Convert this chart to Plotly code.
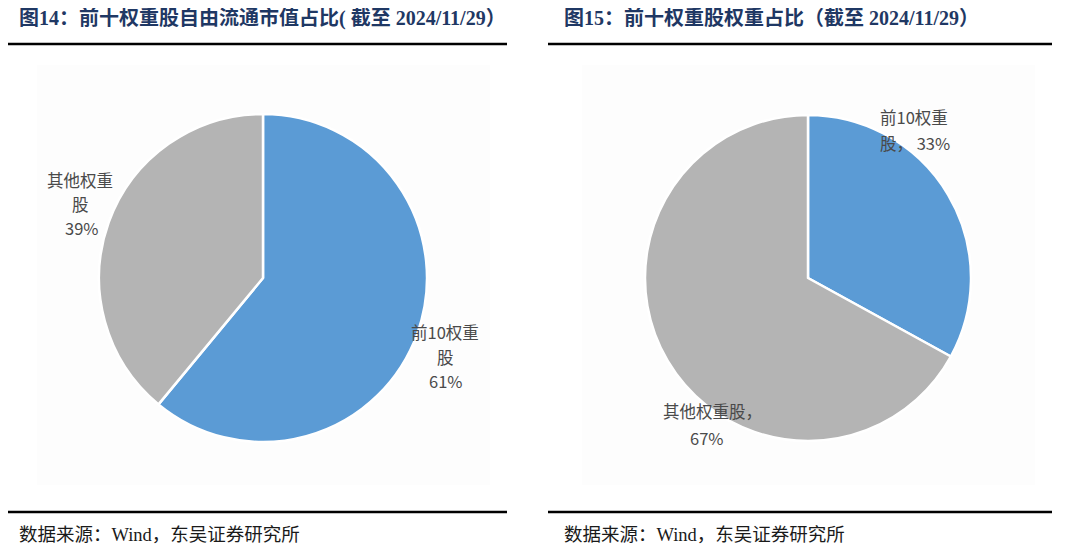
import plotly.graph_objects as go

OFF = 8  # default page body margin
W, H = 1080 - OFF, 556 - OFF

# data
categories_left = ["前10权重股", "其他权重股"]
values_left = [61, 39]
categories_right = ["前10权重股", "其他权重股"]
values_right = [33, 67]
colors = ["#5B9BD5", "#B4B4B4"]

title_left = "图14：前十权重股自由流通市值占比( 截至 2024/11/29）"
title_right = "图15：前十权重股权重占比（截至 2024/11/29）"
source_text = "数据来源：Wind，东吴证券研究所"


def px(x):
    return (x - OFF) / W


def py(y):
    return 1 - (y - OFF) / H


fig = go.Figure()

fig.add_trace(go.Pie(
    labels=categories_left, values=values_left, sort=False,
    direction="clockwise", rotation=0,
    marker=dict(colors=colors, line=dict(color="white", width=2.5)),
    textinfo="none", hoverinfo="label+percent",
    domain=dict(x=[px(99), px(427)], y=[py(442), py(114)]),
    showlegend=False,
))
fig.add_trace(go.Pie(
    labels=categories_right, values=values_right, sort=False,
    direction="clockwise", rotation=0,
    marker=dict(colors=colors, line=dict(color="white", width=2.5)),
    textinfo="none", hoverinfo="label+percent",
    domain=dict(x=[px(645), px(971)], y=[py(442), py(114)]),
    showlegend=False,
))

label_font = dict(family="Noto Sans CJK SC", size=16.5, color="#4A4A4A")
title_font = dict(family="Liberation Serif, Noto Sans CJK SC", size=20, color="#1F3864")
src_font = dict(family="Liberation Serif, Noto Sans CJK SC", size=18.5, color="#1A1A1A")

annotations = []


def lab(x, y, text, font=label_font, xanchor="center"):
    annotations.append(dict(x=px(x), y=py(y), text=text, font=font,
                            xanchor=xanchor, yanchor="middle",
                            xref="paper", yref="paper", showarrow=False))


# left pie labels
lab(80, 180, "其他权重")
lab(80, 204, "股")
lab(82, 228, "%d%%" % values_left[1])
lab(445, 332, "前10权重")
lab(445, 357, "股")
lab(446, 381, "%d%%" % values_left[0])
# right pie labels
lab(914, 117, "前10权重")
lab(915, 143, "股， %d%%" % values_right[0])
lab(712, 411, "其他权重股，")
lab(707, 438, "%d%%" % values_right[1])
# titles and sources
lab(17, 18, "<b>%s</b>" % title_left, title_font, "left")
lab(562, 18, "<b>%s</b>" % title_right, title_font, "left")
lab(17, 535, source_text, src_font, "left")
lab(562, 535, source_text, src_font, "left")

shapes = []
for (x0, x1) in [(3, 507), (548, 1052)]:
    for y in (44, 512):
        shapes.append(dict(type="line", xref="paper", yref="paper",
                           x0=px(x0), x1=px(x1), y0=py(y), y1=py(y),
                           line=dict(color="black", width=2.5)))
# faint plot-area backgrounds
for (x0, x1) in [(37, 490), (582, 1035)]:
    shapes.append(dict(type="rect", xref="paper", yref="paper", layer="below",
                       x0=px(x0), x1=px(x1), y0=py(485), y1=py(65),
                       fillcolor="#FDFDFD", line=dict(width=0)))

fig.update_layout(
    width=W, height=H, margin=dict(l=0, r=0, t=0, b=0),
    paper_bgcolor="white", plot_bgcolor="white",
    annotations=annotations, shapes=shapes,
)

fig.write_html("out.html")
